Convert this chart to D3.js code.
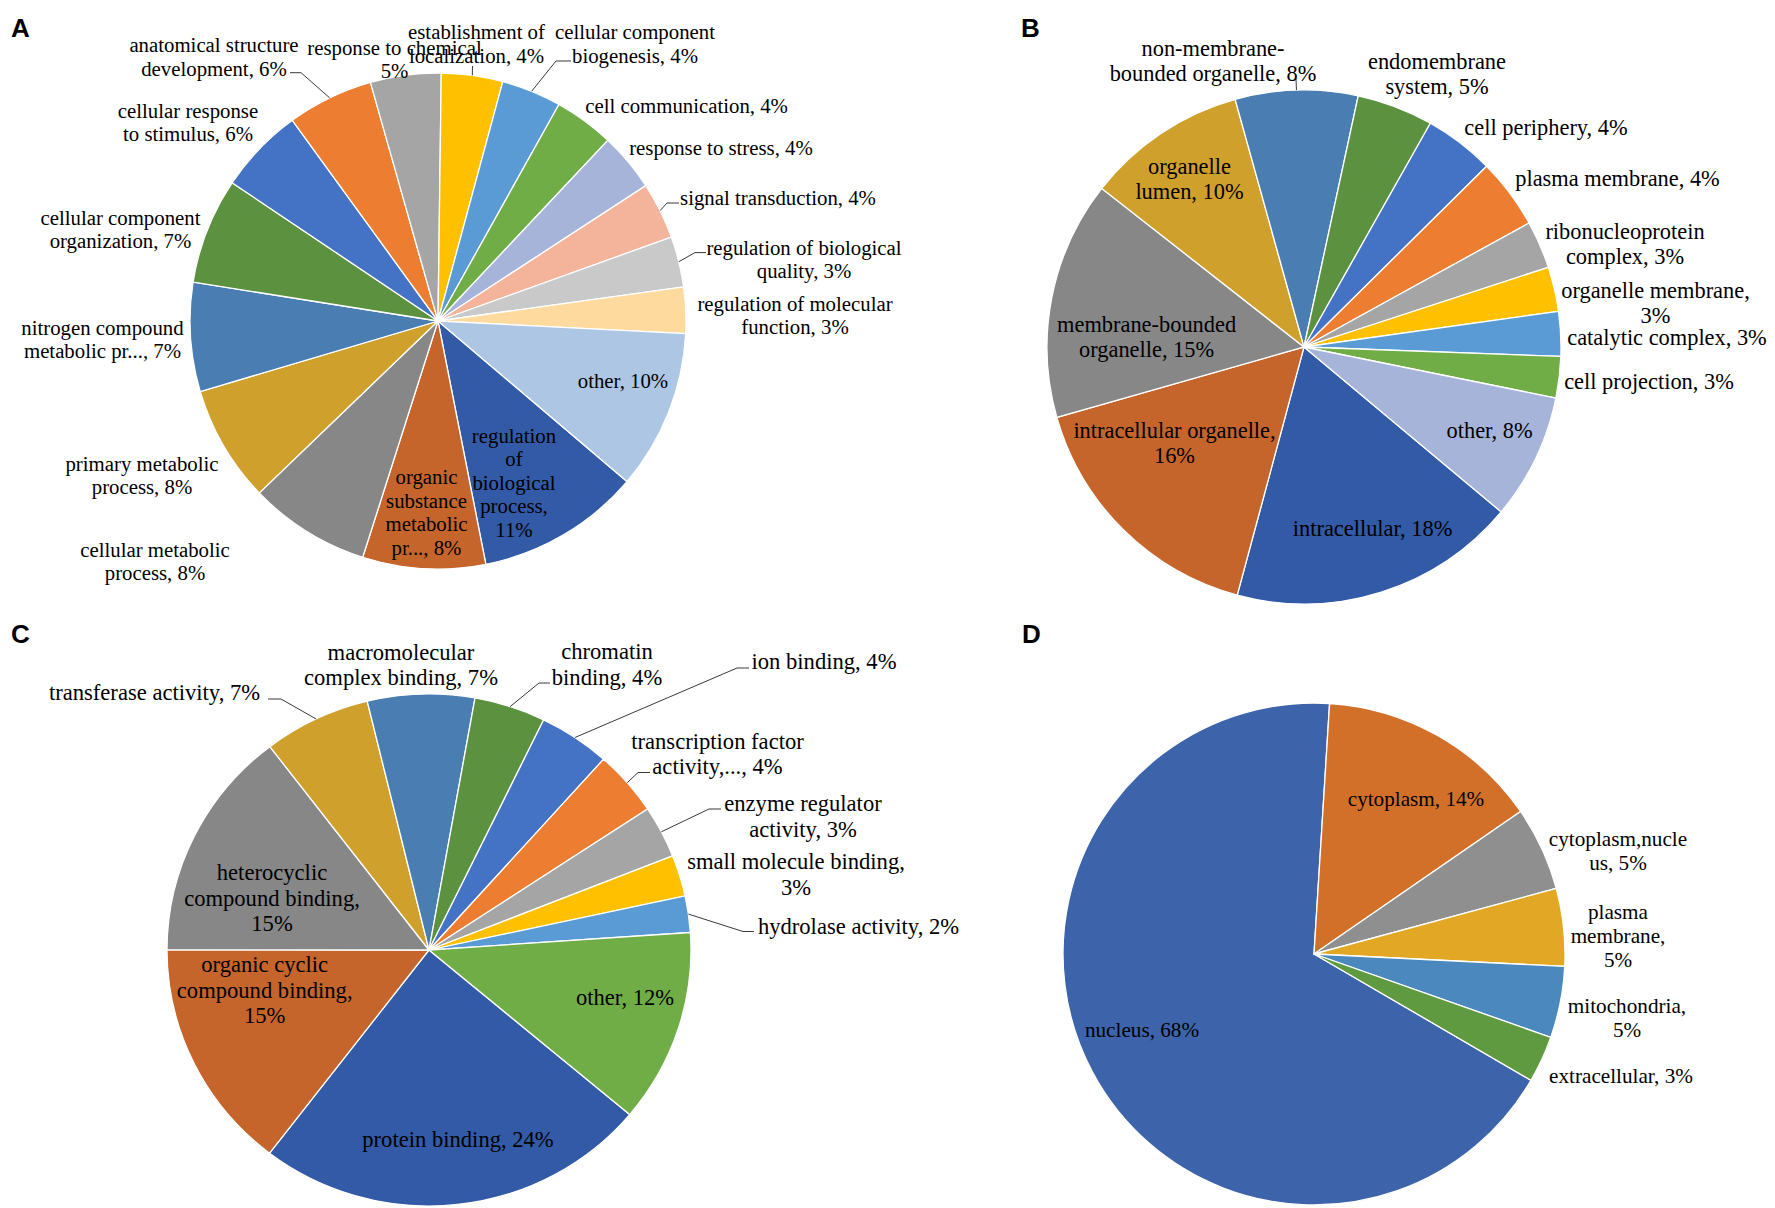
<!DOCTYPE html>
<html>
<head>
<meta charset="utf-8">
<script src="https://cdn.jsdelivr.net/npm/d3@7"></script>
<style>
  body { margin: 0; background: #fff; }
  svg text { font-family: "Liberation Serif", "Times New Roman", serif; fill: #000; }
  svg text.panel-letter { font-family: "Liberation Sans", Arial, sans-serif; font-weight: bold; }
</style>
</head>
<body>
<svg id="chart" width="1775" height="1208"></svg>
<script>
// A - biological process
const bpCategories = [
    "regulation\nof\nbiological\nprocess,\n{p}", "organic\nsubstance\nmetabolic\npr..., {p}",
    "cellular metabolic\nprocess, {p}", "primary metabolic\nprocess, {p}",
    "nitrogen compound\nmetabolic pr..., {p}", "cellular component\norganization, {p}",
    "cellular response\nto stimulus, {p}", "anatomical structure\ndevelopment, {p}",
    "response to chemical\n{p}", "establishment of\nlocalization, {p}",
    "cellular component\nbiogenesis, {p}", "cell communication, {p}",
    "response to stress, {p}", "signal transduction, {p}",
    "regulation of biological\nquality, {p}", "regulation of molecular\nfunction, {p}",
    "other, {p}"
];
const bpValues = [10.7, 8.0, 7.9, 7.6, 7.1, 6.9, 5.6, 5.6, 4.6, 4.0, 3.9, 3.9, 3.8, 3.7, 3.3, 3.0, 10.4];

// B - cellular component
const ccCategories = [
    "intracellular, {p}", "intracellular organelle,\n{p}", "membrane-bounded\norganelle, {p}",
    "organelle\nlumen, {p}", "non-membrane-\nbounded organelle, {p}", "endomembrane\nsystem, {p}",
    "cell periphery, {p}", "plasma membrane, {p}", "ribonucleoprotein\ncomplex, {p}",
    "organelle membrane,\n{p}", "catalytic complex, {p}", "cell projection, {p}", "other, {p}"
];
const ccValues = [18.1, 16.4, 15.0, 10.1, 7.7, 4.8, 4.4, 4.4, 3.0, 2.8, 2.8, 2.6, 7.9];

// C - molecular function
const mfCategories = [
    "protein binding, {p}", "organic cyclic\ncompound binding,\n{p}", "heterocyclic\ncompound binding,\n{p}",
    "transferase activity, {p}", "macromolecular\ncomplex binding, {p}", "chromatin\nbinding, {p}",
    "ion binding, {p}", "transcription factor\nactivity,..., {p}", "enzyme regulator\nactivity, {p}",
    "small molecule binding,\n{p}", "hydrolase activity, {p}", "other, {p}"
];
const mfValues = [24.3, 14.6, 14.6, 6.6, 6.6, 4.4, 4.4, 4.1, 3.3, 2.6, 2.3, 12.2];

// D - subcellular location
const locCategories = [
    "nucleus, {p}", "cytoplasm, {p}", "cytoplasm,nucle\nus, {p}",
    "plasma\nmembrane,\n{p}", "mitochondria,\n{p}", "extracellular, {p}"
];
const locValues = [67.6, 14.4, 5.4, 5.0, 4.6, 3.0];

const officeColors = ["#335aa6", "#c5652b", "#878787", "#d0a02d", "#4a7eb3", "#5b913f",
    "#4472c4", "#ed7d31", "#a5a5a5", "#ffc000", "#5b9bd5", "#70ad47",
    "#a7b4da", "#f4b49b", "#c9c9c9", "#ffda9e", "#adc6e4"];
const locColors = ["#3d64aa", "#d2702a", "#8f8f8f", "#e2a825", "#4b88bd", "#5f9a41"];

// label anchor: centre x, centre of first line
const bpLabelPos = [[514, 436], [426.5, 477.6], [155, 550], [142, 464], [102.5, 328], [120.5, 218],
    [188, 111], [214, 45.2], [394.5, 47.8], [476.5, 32.5], [635, 32.5], [686.6, 106.4],
    [721, 148.5], [778, 198], [804, 248], [795, 304], [623, 381]];
const ccLabelPos = [[1372.6, 529], [1174.5, 430.5], [1146.6, 324.5], [1189.5, 166.5], [1213, 49],
    [1437, 62], [1546, 127.4], [1617.5, 179], [1625, 231.5], [1655.5, 290.8], [1667, 338],
    [1649, 382], [1489.6, 430.5]];
const mfLabelPos = [[458, 1140], [264.7, 965], [272, 873], [154.5, 693], [401, 652.3], [607, 652],
    [824, 662], [717.5, 741.5], [803, 804], [796, 861.7], [858.5, 926.5], [625, 998]];
const locLabelPos = [[1142, 1029.6], [1416, 799], [1618, 839], [1618, 912], [1627, 1006], [1621, 1076]];

// leader lines: label-side points, ending at the slice edge
const bpLeaders = { 7: [[290, 72.7], [301, 72.7]], 9: [[472.5, 66]], 10: [[571, 61], [556, 61]],
    13: [[679, 203], [667, 203]], 14: [[706, 252.6], [695, 252.6]] };
const ccLeaders = { 4: [[1296, 79]] };
const mfLeaders = { 3: [[268, 699], [281, 699]], 5: [[550, 683], [539, 683]], 6: [[749, 668], [737, 668]],
    7: [[650, 772.5], [638, 772.5]], 8: [[721, 809], [709, 809]], 10: [[754, 931.5], [743, 931.5]] };

const panels = [
    { letter: "A", lx: 11, ly: 37, cats: bpCategories, vals: bpValues, colors: officeColors, start: 130.35,
      cx: 438, cy: 321, rx: 248, ry: 248, font: 20.8, lh: 23.5, pos: bpLabelPos, leaders: bpLeaders },
    { letter: "B", lx: 1021, ly: 37, cats: ccCategories, vals: ccValues, colors: officeColors, start: 129.9,
      cx: 1304, cy: 347, rx: 257, ry: 257, font: 22.4, lh: 25, pos: ccLabelPos, leaders: ccLeaders },
    { letter: "C", lx: 11, ly: 643, cats: mfCategories, vals: mfValues, colors: officeColors, start: 130,
      cx: 429, cy: 950, rx: 262, ry: 256, font: 22.6, lh: 25.5, pos: mfLabelPos, leaders: mfLeaders },
    { letter: "D", lx: 1022, ly: 643, cats: locCategories, vals: locValues, colors: locColors, start: 120.2,
      cx: 1314, cy: 954, rx: 251, ry: 251, font: 21.2, lh: 24, pos: locLabelPos, leaders: {} }
];

const svg = d3.select("#chart");
const rad = Math.PI / 180;

panels.forEach(p => {
    const total = d3.sum(p.vals);
    const pie = d3.pie().sort(null).value(d => d)
        .startAngle(p.start * rad).endAngle(p.start * rad + 2 * Math.PI);
    const arcs = pie(p.vals);
    const arc = d3.arc().innerRadius(0).outerRadius(p.rx);

    const g = svg.append("g");

    g.append("g")
        .attr("transform", `translate(${p.cx},${p.cy}) scale(1,${p.ry / p.rx})`)
        .selectAll("path")
        .data(arcs)
        .enter().append("path")
        .attr("d", arc)
        .attr("fill", (d, i) => p.colors[i % p.colors.length])
        .attr("stroke", "#fff")
        .attr("stroke-width", 1.3);

    // leader lines to the middle of each slice's rim
    const line = d3.line();
    Object.keys(p.leaders).forEach(k => {
        const a = arcs[+k];
        const mid = (a.startAngle + a.endAngle) / 2;
        const edge = [p.cx + p.rx * Math.sin(mid), p.cy - p.ry * Math.cos(mid)];
        g.append("path")
            .attr("d", line(p.leaders[k].concat([edge])))
            .attr("fill", "none")
            .attr("stroke", "#3a3a3a")
            .attr("stroke-width", 1);
    });

    // data labels
    arcs.forEach((a, i) => {
        const pct = Math.round(a.data / total * 100) + "%";
        const lines = p.cats[i].replace("{p}", pct).split("\n");
        const [x, y] = p.pos[i];
        const t = g.append("text")
            .attr("text-anchor", "middle")
            .style("font-size", p.font + "px");
        lines.forEach((s, j) => {
            t.append("tspan")
                .attr("x", x)
                .attr("y", y + j * p.lh + p.font * 0.33)
                .text(s);
        });
    });

    svg.append("text")
        .attr("class", "panel-letter")
        .attr("x", p.lx)
        .attr("y", p.ly)
        .style("font-size", "26px")
        .text(p.letter);
});
</script>
</body>
</html>
